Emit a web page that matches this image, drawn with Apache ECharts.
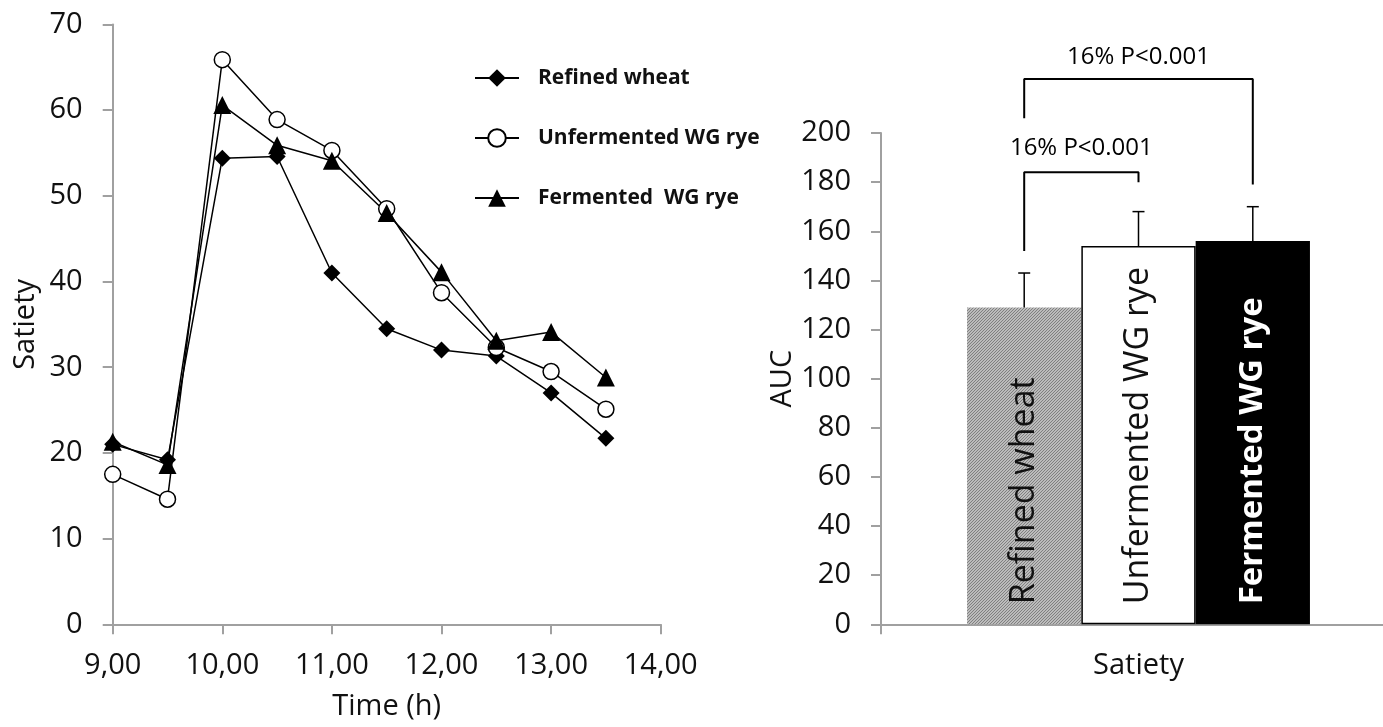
<!DOCTYPE html>
<html>
<head>
<meta charset="utf-8">
<script src="https://cdn.jsdelivr.net/npm/echarts@6/dist/echarts.min.js"></script>
<style>
  html, body { margin: 0; padding: 0; background: #fff; }
  #chart { width: 1383px; height: 727px; }
</style>
</head>
<body>
<div id="chart"></div>
<script>
// left panel: satiety over time
var timeHours = [9, 9.5, 10, 10.5, 11, 11.5, 12, 12.5, 13, 13.5];
var refinedWheat = [21.0, 19.2, 54.4, 54.6, 41.0, 34.5, 32.0, 31.3, 27.0, 21.7];
var unfermentedRye = [17.5, 14.6, 65.9, 58.9, 55.3, 48.5, 38.7, 32.3, 29.5, 25.1];
var fermentedRye = [21.3, 18.6, 60.6, 55.9, 54.1, 48.0, 41.1, 33.1, 34.1, 28.8];
var lineNames = ['Refined wheat', 'Unfermented WG rye', 'Fermented  WG rye'];

// right panel: AUC bars
var barCategory = ['Satiety'];
var barNames = ['Refined wheat', 'Unfermented WG rye', 'Fermented WG rye'];
var aucMeans = [129, 154, 156];
var aucErrorTops = [143, 168, 170];

// significance brackets: [from bar, to bar, left leg bottom, top, right leg bottom]
var brackets = [[0, 1, 152, 184, 180], [0, 2, 206, 222, 179]];
var bracketTexts = ['16% P<0.001', '16% P<0.001'];
var bracketTextLevels = [194, 231];

var chartDom = document.getElementById('chart');
var myChart = echarts.init(chartDom);

var font = 'Open Sans';
var ink = '#111';
var axisGray = '#a0a0a0';

var barWidth = 114.3;
var rightGrid = { left: 881, top: 133, width: 515, bottom: 102.7, outerBoundsMode: 'none' };
var halfSpan = rightGrid.width / 2 / barWidth;

// hatched fill for the refined wheat bar
function hatch() {
  var c = document.createElement('canvas');
  c.width = 3; c.height = 3;
  var ctx = c.getContext('2d');
  ctx.fillStyle = '#bcbcbc';
  ctx.fillRect(0, 0, 3, 3);
  ctx.fillStyle = '#808080';
  ctx.fillRect(2, 0, 1, 1);
  ctx.fillRect(1, 1, 1, 1);
  ctx.fillRect(0, 2, 1, 1);
  return { image: c, repeat: 'repeat' };
}

function pairs(xs, ys) {
  return xs.map(function (x, i) { return [x, ys[i]]; });
}

var axisCommon = {
  axisLine: { show: true, onZero: false, lineStyle: { color: axisGray, width: 2 } },
  axisTick: { show: true, inside: false, length: 10, lineStyle: { color: axisGray, width: 2 } },
  splitLine: { show: false },
  axisLabel: { color: ink, fontFamily: font, fontSize: 29, margin: 30 },
  nameTextStyle: { color: ink, fontFamily: font, fontSize: 29 }
};

var barColors = [hatch(), '#ffffff', '#000000'];
var barLabelColors = [ink, ink, '#ffffff'];
var barLabelWeights = ['normal', 'normal', 'bold'];
var barBorders = [0, 1.5, 0];

var barSeries = barNames.map(function (name, i) {
  return {
    name: name,
    type: 'bar',
    xAxisIndex: 1,
    yAxisIndex: 1,
    barWidth: barWidth,
    barGap: '0%',
    data: [aucMeans[i]],
    itemStyle: { color: barColors[i], borderColor: '#000', borderWidth: barBorders[i] },
    label: {
      show: true,
      position: 'insideBottom',
      rotate: 90,
      align: 'left',
      verticalAlign: 'middle',
      distance: 20,
      formatter: '{a}',
      fontFamily: font,
      fontSize: i === 2 ? 33 : 34,
      fontWeight: barLabelWeights[i],
      color: barLabelColors[i]
    }
  };
});

var errorData = aucMeans.map(function (m, i) { return [i - 1, m, aucErrorTops[i]]; });

var bracketSeries = brackets.map(function (b) {
  var xa = b[0] - 1, xb = b[1] - 1;
  return {
    type: 'line',
    xAxisIndex: 2,
    yAxisIndex: 1,
    clip: false,
    silent: true,
    symbol: 'none',
    lineStyle: { color: '#000', width: 2 },
    data: [[xa, b[2]], [xa, b[3]], [xb, b[3]], [xb, b[4]]],
    z: 5
  };
});

var bracketLabelData = brackets.map(function (b, i) {
  return { value: [(b[0] + b[1]) / 2 - 1, bracketTextLevels[i]], label: { formatter: bracketTexts[i] } };
});

var option = {
  animation: false,
  backgroundColor: '#fff',
  textStyle: { fontFamily: font },
  legend: {
    data: lineNames,
    orient: 'vertical',
    left: 469,
    top: 61,
    itemWidth: 44,
    itemHeight: 22,
    itemGap: 36,
    selectedMode: false,
    textStyle: { color: ink, fontFamily: font, fontSize: 21, fontWeight: 'bold', lineHeight: 24, padding: [0, 0, 0, 14] }
  },
  grid: [
    { left: 112.7, right: 722.3, top: 24.5, bottom: 102.7, outerBoundsMode: 'none' },
    rightGrid
  ],
  xAxis: [
    Object.assign({}, axisCommon, {
      type: 'value', gridIndex: 0, min: 9, max: 14, interval: 1,
      name: 'Time (h)', nameLocation: 'middle', nameGap: 68,
      axisLabel: Object.assign({}, axisCommon.axisLabel, {
        margin: 27,
        formatter: function (v) { return v.toFixed(2).replace('.', ','); }
      })
    }),
    Object.assign({}, axisCommon, {
      type: 'category', gridIndex: 1, data: barCategory,
      axisLabel: Object.assign({}, axisCommon.axisLabel, { margin: 27 })
    }),
    { type: 'value', gridIndex: 1, min: -halfSpan, max: halfSpan, show: false }
  ],
  yAxis: [
    Object.assign({}, axisCommon, {
      type: 'value', gridIndex: 0, min: 0, max: 70, interval: 10,
      name: 'Satiety', nameLocation: 'middle', nameGap: 72
    }),
    Object.assign({}, axisCommon, {
      type: 'value', gridIndex: 1, min: 0, max: 200, interval: 20,
      name: 'AUC', nameLocation: 'middle', nameGap: 76
    })
  ],
  series: [
    {
      name: lineNames[0], type: 'line', data: pairs(timeHours, refinedWheat),
      symbol: 'diamond', symbolSize: 17,
      lineStyle: { color: '#000', width: 1.5 },
      itemStyle: { color: '#000' }
    },
    {
      name: lineNames[1], type: 'line', data: pairs(timeHours, unfermentedRye),
      symbol: 'circle', symbolSize: 16,
      lineStyle: { color: '#000', width: 1.5 },
      itemStyle: { color: '#fff', borderColor: '#000', borderWidth: 1.5 }
    },
    {
      name: lineNames[2], type: 'line', data: pairs(timeHours, fermentedRye),
      symbol: 'triangle', symbolSize: 18,
      lineStyle: { color: '#000', width: 1.5 },
      itemStyle: { color: '#000' }
    }
  ].concat(barSeries).concat([
    {
      type: 'custom',
      xAxisIndex: 2,
      yAxisIndex: 1,
      silent: true,
      z: 4,
      data: errorData,
      renderItem: function (params, api) {
        var x = api.value(0);
        var base = api.coord([x, api.value(1)]);
        var top = api.coord([x, api.value(2)]);
        var cap = 6;
        var st = { stroke: '#000', lineWidth: 1.5 };
        return {
          type: 'group',
          children: [
            { type: 'line', shape: { x1: base[0], y1: base[1], x2: top[0], y2: top[1] }, style: st },
            { type: 'line', shape: { x1: top[0] - cap, y1: top[1], x2: top[0] + cap, y2: top[1] }, style: st }
          ]
        };
      }
    }
  ]).concat(bracketSeries).concat([
    {
      type: 'scatter',
      xAxisIndex: 2,
      yAxisIndex: 1,
      clip: false,
      silent: true,
      symbolSize: 0,
      itemStyle: { opacity: 1 },
      data: bracketLabelData,
      label: {
        show: true, position: 'inside', color: '#000', textBorderWidth: 0,
        fontFamily: font, fontSize: 24
      }
    }
  ])
};

option && myChart.setOption(option);
</script>
</body>
</html>
